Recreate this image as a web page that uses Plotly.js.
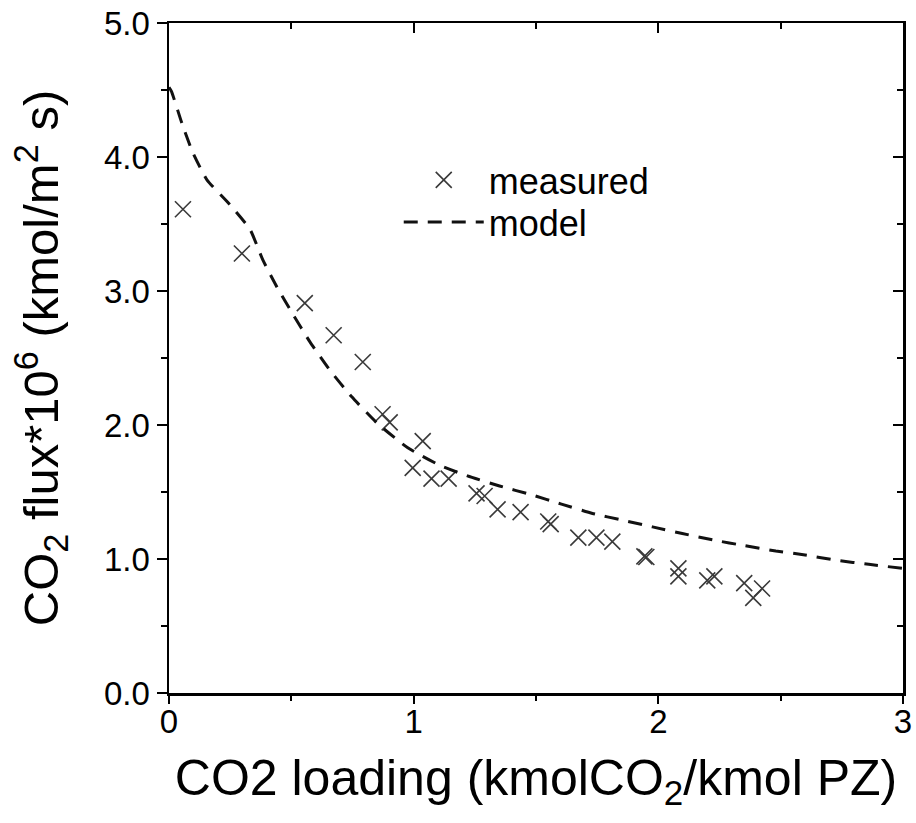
<!DOCTYPE html>
<html><head><meta charset="utf-8">
<script src="https://cdn.plot.ly/plotly-3.0.1.min.js"></script>
<style>html,body{margin:0;padding:0;background:#fff}#chart{width:916px;height:823px}</style>
</head><body><div id="chart"></div>
<script>
// measured CO2 flux*10^6 vs CO2 loading
const measuredX = [0.057, 0.298, 0.555, 0.673, 0.792, 0.873, 0.902, 0.996, 1.037, 1.073, 1.143, 1.257, 1.29, 1.343, 1.437, 1.55, 1.56, 1.673, 1.747, 1.812, 1.943, 1.951, 2.082, 2.082, 2.2, 2.229, 2.351, 2.388, 2.424];
const measuredY = [3.61, 3.28, 2.91, 2.67, 2.47, 2.08, 2.02, 1.68, 1.88, 1.60, 1.60, 1.49, 1.47, 1.37, 1.35, 1.28, 1.26, 1.16, 1.16, 1.13, 1.02, 1.015, 0.93, 0.87, 0.84, 0.87, 0.82, 0.71, 0.78];
// model curve
const modelX = [0.0, 0.01, 0.053, 0.098, 0.155, 0.241, 0.331, 0.384, 0.441, 0.502, 0.576, 0.657, 0.747, 0.853, 0.976, 1.106, 1.22, 1.351, 1.48, 1.604, 1.731, 1.853, 1.976, 2.098, 2.229, 2.351, 2.48, 2.6, 2.73, 2.86, 3.0];
const modelY = [4.52, 4.49, 4.25, 4.03, 3.83, 3.66, 3.46, 3.23, 3.03, 2.84, 2.62, 2.41, 2.21, 2.01, 1.83, 1.70, 1.62, 1.545, 1.48, 1.41, 1.34, 1.29, 1.24, 1.19, 1.14, 1.10, 1.06, 1.03, 0.99, 0.96, 0.93];
const xTickVals = [0, 1, 2, 3];
const xTickText = ['0', '1', '2', '3'];
const yTickVals = [0, 1, 2, 3, 4, 5];
const yTickText = ['0.0', '1.0', '2.0', '3.0', '4.0', '5.0'];

const FONT = 'Liberation Sans, Arial, sans-serif';
const traces = [
  {x: measuredX, y: measuredY, type: 'scatter', mode: 'markers', name: 'measured', legend: 'legend',
   marker: {symbol: 'x-thin', size: 16, line: {width: 1.6, color: '#3a3a3a'}, color: '#3a3a3a'}},
  {x: modelX, y: modelY, type: 'scatter', mode: 'lines', name: 'model', legend: 'legend2',
   line: {color: '#111', width: 3, dash: '14px,10px', shape: 'spline', smoothing: 0.5}},
  {x: [], y: [], xaxis: 'x2', yaxis: 'y2', showlegend: false, hoverinfo: 'skip', type: 'scatter'}
];
const axCommon = {showgrid: false, zeroline: false, showline: true, linecolor: '#000', linewidth: 2.5,
  tickcolor: '#000', tickwidth: 2};
const legCommon = {xanchor: 'left', yanchor: 'middle', bgcolor: 'rgba(0,0,0,0)',
  font: {size: 36, family: FONT}, itemwidth: 80};
const layout = {
  width: 916, height: 823,
  margin: {l: 169, r: 13, t: 23, b: 130},
  paper_bgcolor: '#fff', plot_bgcolor: '#fff',
  font: {family: FONT, color: '#000'},
  showlegend: true,
  legend: Object.assign({}, legCommon, {x: 0.313, y: 0.7657}),
  legend2: Object.assign({}, legCommon, {x: 0.313, y: 0.703}),
  xaxis: Object.assign({}, axCommon, {range: [0, 3], tickvals: xTickVals, ticktext: xTickText,
    ticks: 'outside', ticklen: 8, tickfont: {size: 33, family: FONT}, ticklabelstandoff: -10,
    minor: {dtick: 0.5, tick0: 0, ticks: 'outside', ticklen: 5, tickwidth: 2, tickcolor: '#000'},
    title: {text: 'CO2 loading (kmolCO<sub>2</sub>/kmol PZ)', font: {size: 50, family: FONT}, standoff: 21}}),
  yaxis: Object.assign({}, axCommon, {range: [0, 5], tickvals: yTickVals, ticktext: yTickText,
    ticks: 'outside', ticklen: 10, tickfont: {size: 33, family: FONT},
    minor: {dtick: 0.5, tick0: 0, ticks: 'outside', ticklen: 6, tickwidth: 2, tickcolor: '#000'},
    title: {text: 'CO<sub>2</sub> flux*10<sup>6</sup> (kmol/m<sup>2</sup> s)', font: {size: 49, family: FONT}, standoff: 30}}),
  xaxis2: Object.assign({}, axCommon, {overlaying: 'x', side: 'top', range: [0, 3], tickvals: xTickVals,
    ticks: 'inside', ticklen: 10, showticklabels: false,
    minor: {dtick: 0.5, tick0: 0, ticks: 'inside', ticklen: 6, tickwidth: 2, tickcolor: '#000'}}),
  yaxis2: Object.assign({}, axCommon, {overlaying: 'y', side: 'right', range: [0, 5], tickvals: yTickVals,
    ticks: 'inside', ticklen: 10, showticklabels: false,
    minor: {dtick: 0.5, tick0: 0, ticks: 'inside', ticklen: 6, tickwidth: 2, tickcolor: '#000'}})
};
Plotly.newPlot('chart', traces, layout, {displayModeBar: false, staticPlot: true});
</script>
</body></html>
